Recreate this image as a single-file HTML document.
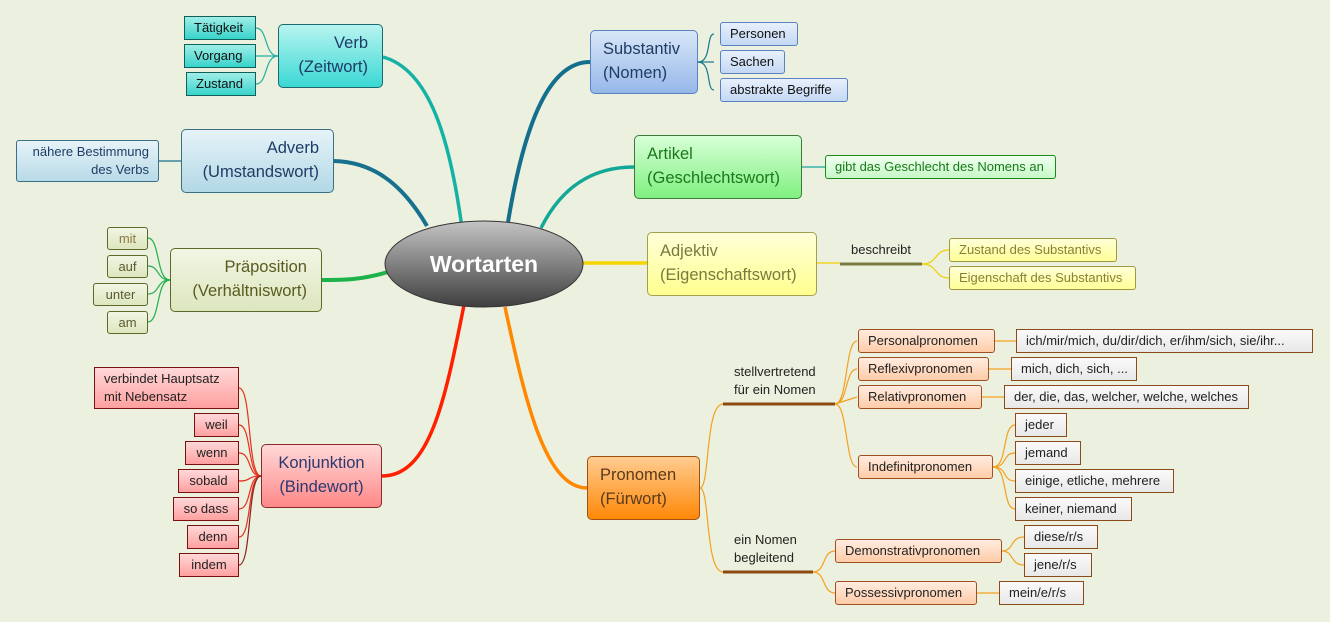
<!DOCTYPE html>
<html><head><meta charset="utf-8"><style>
body{margin:0;width:1330px;height:622px;background:#ecf0de;position:relative;overflow:hidden;font-family:"Liberation Sans","DejaVu Sans",sans-serif;}
.b{position:absolute;box-sizing:border-box;font-size:13px;line-height:22px;padding:0 9px;white-space:nowrap;}
.m{position:absolute;box-sizing:border-box;font-size:16.5px;line-height:24px;padding:6px 14px;border-radius:5px;white-space:nowrap;}
.t{position:absolute;font-size:13px;line-height:18px;color:#222;}
svg{position:absolute;left:0;top:0}
</style></head><body>
<svg width="1330" height="622" viewBox="0 0 1330 622" fill="none">
<defs><linearGradient id="eg" x1="0" y1="0" x2="0" y2="1"><stop offset="0" stop-color="#c4c4c4"/><stop offset="1" stop-color="#3e3e3e"/></linearGradient></defs>
<!-- main branches -->
<path d="M462,228 C450,140 430,70 383,57" stroke="#14b2a4" stroke-width="3.5"/>
<path d="M427,226 C400,180 370,162 334,161" stroke="#16708e" stroke-width="4"/>
<path d="M388,272 C360,280 345,280 322,280" stroke="#1db24a" stroke-width="4"/>
<path d="M464,305 C445,400 430,476 382,476" stroke="#ff2000" stroke-width="3.5"/>
<path d="M508,222 C525,120 550,62 590,62" stroke="#146f8d" stroke-width="4"/>
<path d="M541,228 C565,180 600,167 634,167" stroke="#12a898" stroke-width="3.5"/>
<path d="M583,263 L647,263" stroke="#f5d600" stroke-width="3.5"/>
<path d="M505,307 C525,400 545,488 587,488" stroke="#ff8800" stroke-width="3.5"/>
<!-- verb sub -->
<g stroke="#20b0a0" stroke-width="1.2"><path d="M278,56 C264,56 268,28 256,28"/><path d="M278,56 L256,56"/><path d="M278,56 C264,56 268,84 256,84"/></g>
<path d="M181,161 L159,161" stroke="#16708e" stroke-width="1.2"/>
<g stroke="#22b04a" stroke-width="1.2"><path d="M170,280 C156,280 160,238 148,238"/><path d="M170,280 C156,280 160,266 148,266"/><path d="M170,280 C156,280 160,294 148,294"/><path d="M170,280 C156,280 160,322 148,322"/></g>
<g stroke="#e8301c" stroke-width="1.2"><path d="M261,476 C247,476 252,388 239,388"/><path d="M261,476 C247,476 252,425 239,425"/><path d="M261,476 C247,476 252,453 239,453"/><path d="M261,476 C247,476 252,481 239,481"/><path d="M261,476 C247,476 252,509 239,509"/><path d="M261,476 C247,476 252,537 239,537"/><path d="M261,476 C247,476 252,565 239,565" stroke="#8a2020"/></g>
<g stroke="#167890" stroke-width="1.2"><path d="M698,62 C712,62 706,34 714,34"/><path d="M698,62 L714,62"/><path d="M698,62 C712,62 706,90 714,90"/></g>
<path d="M802,167 L825,167" stroke="#12a898" stroke-width="1.2"/>
<path d="M817,263 L840,263" stroke="#f0d000" stroke-width="1.2"/>
<path d="M840,264 L922,264" stroke="#7a7a40" stroke-width="3"/>
<g stroke="#f0d000" stroke-width="1.2"><path d="M922,264 C938,264 934,250 949,250"/><path d="M922,264 C938,264 934,278 949,278"/></g>
<!-- pronomen -->
<g stroke="#f5a020" stroke-width="1.2">
<path d="M700,488 C710,488 705,404 723,404"/><path d="M700,488 C710,488 705,572 723,572"/>
<path d="M835,404 C848,404 845,341 857,341"/><path d="M835,404 C848,404 845,369 857,369"/><path d="M835,404 L857,397"/><path d="M835,404 C848,404 845,467 857,467"/>
<path d="M995,341 L1016,341"/><path d="M989,369 L1011,369"/><path d="M982,397 L1004,397"/>
<path d="M993,467 C1008,467 1002,425 1015,425"/><path d="M993,467 C1008,467 1002,453 1015,453"/><path d="M993,467 C1008,467 1002,481 1015,481"/><path d="M993,467 C1008,467 1002,509 1015,509"/>
<path d="M813,572 C826,572 822,551 835,551"/><path d="M813,572 C826,572 822,593 835,593"/>
<path d="M1002,551 C1014,551 1010,537 1024,537"/><path d="M1002,551 C1014,551 1010,565 1024,565"/>
<path d="M977,593 L999,593"/>
</g>
<path d="M723,404 L835,404" stroke="#8a4a10" stroke-width="3"/>
<path d="M723,572 L813,572" stroke="#8a4a10" stroke-width="3"/>
<ellipse cx="484" cy="264" rx="99" ry="43" fill="url(#eg)" stroke="#333" stroke-width="1"/>
<text x="484" y="272" text-anchor="middle" font-family="Liberation Sans, sans-serif" font-size="23" font-weight="bold" fill="#fff">Wortarten</text>
</svg>

<!-- Verb -->
<div class="m" style="left:278px;top:24px;width:105px;height:64px;background:linear-gradient(#b8f4f0,#3ad8d4);border:1px solid #1a6b70;color:#1e3c66;text-align:right;">Verb<br>(Zeitwort)</div>
<div class="b" style="left:184px;top:16px;width:72px;height:24px;background:linear-gradient(#a0eee8,#38d4cc);border:1px solid #10605a;color:#111;">Tätigkeit</div>
<div class="b" style="left:184px;top:44px;width:72px;height:24px;background:linear-gradient(#a0eee8,#38d4cc);border:1px solid #10605a;color:#111;">Vorgang</div>
<div class="b" style="left:186px;top:72px;width:70px;height:24px;background:linear-gradient(#a0eee8,#38d4cc);border:1px solid #10605a;color:#111;">Zustand</div>
<!-- Adverb -->
<div class="m" style="left:181px;top:129px;width:153px;height:64px;background:linear-gradient(#e6f3f8,#b2d8e6);border:1px solid #3a6f86;color:#1e3c66;text-align:right;">Adverb<br>(Umstandswort)</div>
<div class="b" style="left:16px;top:140px;width:143px;height:42px;background:linear-gradient(#e6f3f8,#b8dae8);border:1px solid #3a6f86;color:#1e3c66;text-align:right;line-height:18px;padding-top:2px;border-radius:3px;">nähere Bestimmung<br>des Verbs</div>
<!-- Präposition -->
<div class="m" style="left:170px;top:248px;width:152px;height:64px;background:linear-gradient(#f2f6e4,#dce6be);border:1px solid #5a6a2a;color:#5a5a20;text-align:right;">Präposition<br>(Verhältniswort)</div>
<div class="b" style="left:107px;top:227px;width:41px;height:23px;background:linear-gradient(#f2f6e4,#dce6be);border:1px solid #5a6a2a;color:#8a7a40;border-radius:3px;text-align:center;padding:0;">mit</div>
<div class="b" style="left:107px;top:255px;width:41px;height:23px;background:linear-gradient(#f2f6e4,#dce6be);border:1px solid #5a6a2a;color:#5a5a30;border-radius:3px;text-align:center;padding:0;">auf</div>
<div class="b" style="left:93px;top:283px;width:55px;height:23px;background:linear-gradient(#f2f6e4,#dce6be);border:1px solid #5a6a2a;color:#5a5a30;border-radius:3px;text-align:center;padding:0;">unter</div>
<div class="b" style="left:107px;top:311px;width:41px;height:23px;background:linear-gradient(#f2f6e4,#dce6be);border:1px solid #5a6a2a;color:#5a5a30;border-radius:3px;text-align:center;padding:0;">am</div>
<!-- Konjunktion -->
<div class="m" style="left:261px;top:444px;width:121px;height:64px;background:linear-gradient(#ffd8d8,#ff8888);border:1px solid #8a2a2a;color:#2a3a70;text-align:center;padding:6px 0;">Konjunktion<br>(Bindewort)</div>
<div class="b" style="left:94px;top:367px;width:145px;height:42px;background:linear-gradient(#ffd8d8,#ffa0a0);border:1px solid #7a1010;color:#222;line-height:18px;padding-top:2px;">verbindet Hauptsatz<br>mit Nebensatz</div>
<div class="b" style="left:194px;top:413px;width:45px;height:24px;background:linear-gradient(#ffd8d8,#ffa0a0);border:1px solid #7a1010;color:#222;text-align:center;padding:0;">weil</div>
<div class="b" style="left:185px;top:441px;width:54px;height:24px;background:linear-gradient(#ffd8d8,#ffa0a0);border:1px solid #7a1010;color:#222;text-align:center;padding:0;">wenn</div>
<div class="b" style="left:178px;top:469px;width:61px;height:24px;background:linear-gradient(#ffd8d8,#ffa0a0);border:1px solid #7a1010;color:#222;text-align:center;padding:0;">sobald</div>
<div class="b" style="left:173px;top:497px;width:66px;height:24px;background:linear-gradient(#ffd8d8,#ffa0a0);border:1px solid #7a1010;color:#222;text-align:center;padding:0;">so dass</div>
<div class="b" style="left:187px;top:525px;width:52px;height:24px;background:linear-gradient(#ffd8d8,#ffa0a0);border:1px solid #7a1010;color:#222;text-align:center;padding:0;">denn</div>
<div class="b" style="left:179px;top:553px;width:60px;height:24px;background:linear-gradient(#ffd8d8,#ffa0a0);border:1px solid #7a1010;color:#222;text-align:center;padding:0;">indem</div>
<!-- Substantiv -->
<div class="m" style="left:590px;top:30px;width:108px;height:64px;background:linear-gradient(#d8e6f8,#96b8e8);border:1px solid #5a82c0;color:#1e3c66;padding:6px 12px;">Substantiv<br>(Nomen)</div>
<div class="b" style="left:720px;top:22px;width:78px;height:24px;background:linear-gradient(#e8f0fc,#c4d8f4);border:1px solid #5a82c0;color:#111;border-radius:3px;">Personen</div>
<div class="b" style="left:720px;top:50px;width:65px;height:24px;background:linear-gradient(#e8f0fc,#c4d8f4);border:1px solid #5a82c0;color:#111;border-radius:3px;">Sachen</div>
<div class="b" style="left:720px;top:78px;width:128px;height:24px;background:linear-gradient(#e8f0fc,#c4d8f4);border:1px solid #5a82c0;color:#111;border-radius:3px;">abstrakte Begriffe</div>
<!-- Artikel -->
<div class="m" style="left:634px;top:135px;width:168px;height:64px;background:linear-gradient(#d8ffd8,#80f080);border:1px solid #3a7a3a;color:#1a7a1a;padding:6px 12px;">Artikel<br>(Geschlechtswort)</div>
<div class="b" style="left:825px;top:155px;width:231px;height:24px;background:linear-gradient(#f0fff0,#c8f8c8);border:1px solid #1a8a1a;color:#1a7a1a;border-radius:3px;">gibt das Geschlecht des Nomens an</div>
<!-- Adjektiv -->
<div class="m" style="left:647px;top:232px;width:170px;height:64px;background:linear-gradient(#ffffd8,#ffff90);border:1px solid #a0a050;color:#7a7a40;padding:6px 12px;">Adjektiv<br>(Eigenschaftswort)</div>
<div class="t" style="left:851px;top:241px;">beschreibt</div>
<div class="b" style="left:949px;top:238px;width:168px;height:24px;background:linear-gradient(#ffffd8,#ffff98);border:1px solid #a09840;color:#8a8030;border-radius:3px;">Zustand des Substantivs</div>
<div class="b" style="left:949px;top:266px;width:187px;height:24px;background:linear-gradient(#ffffd8,#ffff98);border:1px solid #a09840;color:#8a8030;border-radius:3px;">Eigenschaft des Substantivs</div>
<!-- Pronomen -->
<div class="m" style="left:587px;top:456px;width:113px;height:64px;background:linear-gradient(#ffcc90,#ff8808);border:1px solid #a05010;color:#5a3a1a;padding:6px 12px;">Pronomen<br>(Fürwort)</div>
<div class="t" style="left:734px;top:363px;">stellvertretend<br>für ein Nomen</div>
<div class="t" style="left:734px;top:531px;">ein Nomen<br>begleitend</div>
<div class="b" style="left:858px;top:329px;width:137px;height:24px;background:linear-gradient(#ffece0,#ffcca8);border:1px solid #a05020;color:#222;border-radius:3px;">Personalpronomen</div>
<div class="b" style="left:858px;top:357px;width:131px;height:24px;background:linear-gradient(#ffece0,#ffcca8);border:1px solid #a05020;color:#222;border-radius:3px;">Reflexivpronomen</div>
<div class="b" style="left:858px;top:385px;width:124px;height:24px;background:linear-gradient(#ffece0,#ffcca8);border:1px solid #a05020;color:#222;border-radius:3px;">Relativpronomen</div>
<div class="b" style="left:858px;top:455px;width:135px;height:24px;background:linear-gradient(#ffece0,#ffcca8);border:1px solid #a05020;color:#222;border-radius:3px;">Indefinitpronomen</div>
<div class="b" style="left:835px;top:539px;width:167px;height:24px;background:linear-gradient(#ffece0,#ffcca8);border:1px solid #a05020;color:#222;border-radius:3px;">Demonstrativpronomen</div>
<div class="b" style="left:835px;top:581px;width:142px;height:24px;background:linear-gradient(#ffece0,#ffcca8);border:1px solid #a05020;color:#222;border-radius:3px;">Possessivpronomen</div>
<div class="b" style="left:1016px;top:329px;width:297px;height:24px;background:linear-gradient(#fafafa,#e8e8e8);border:1px solid #8a4a1a;color:#222;">ich/mir/mich, du/dir/dich, er/ihm/sich, sie/ihr...</div>
<div class="b" style="left:1011px;top:357px;width:126px;height:24px;background:linear-gradient(#fafafa,#e8e8e8);border:1px solid #8a4a1a;color:#222;">mich, dich, sich, ...</div>
<div class="b" style="left:1004px;top:385px;width:245px;height:24px;background:linear-gradient(#fafafa,#e8e8e8);border:1px solid #8a4a1a;color:#222;">der, die, das, welcher, welche, welches</div>
<div class="b" style="left:1015px;top:413px;width:52px;height:24px;background:linear-gradient(#fafafa,#e8e8e8);border:1px solid #8a4a1a;color:#222;">jeder</div>
<div class="b" style="left:1015px;top:441px;width:66px;height:24px;background:linear-gradient(#fafafa,#e8e8e8);border:1px solid #8a4a1a;color:#222;">jemand</div>
<div class="b" style="left:1015px;top:469px;width:159px;height:24px;background:linear-gradient(#fafafa,#e8e8e8);border:1px solid #8a4a1a;color:#222;">einige, etliche, mehrere</div>
<div class="b" style="left:1015px;top:497px;width:117px;height:24px;background:linear-gradient(#fafafa,#e8e8e8);border:1px solid #8a4a1a;color:#222;">keiner, niemand</div>
<div class="b" style="left:1024px;top:525px;width:74px;height:24px;background:linear-gradient(#fafafa,#e8e8e8);border:1px solid #8a4a1a;color:#222;">diese/r/s</div>
<div class="b" style="left:1024px;top:553px;width:68px;height:24px;background:linear-gradient(#fafafa,#e8e8e8);border:1px solid #8a4a1a;color:#222;">jene/r/s</div>
<div class="b" style="left:999px;top:581px;width:85px;height:24px;background:linear-gradient(#fafafa,#e8e8e8);border:1px solid #8a4a1a;color:#222;">mein/e/r/s</div>
</body></html>
